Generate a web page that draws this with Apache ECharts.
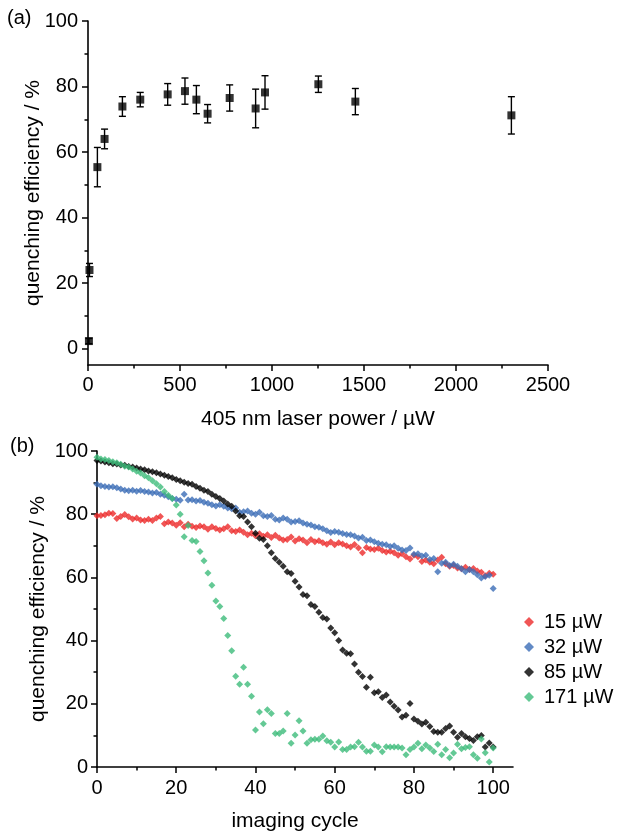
<!DOCTYPE html>
<html>
<head>
<meta charset="utf-8">
<script src="https://cdn.jsdelivr.net/npm/echarts@6/dist/echarts.min.js"></script>
<style>
html,body{margin:0;padding:0;background:#fff;}
#chart{width:617px;height:833px;}
</style>
</head>
<body>
<div id="chart"></div>
<script>
// Panel (a): quenching efficiency vs 405 nm laser power
const powerA = [5, 8, 51, 90, 187, 284, 433, 527, 589, 650, 770, 911, 962, 1252, 1453, 2301];
const effA   = [2.3, 24, 55.4, 64, 73.9, 76, 77.6, 78.6, 76, 71.7, 76.5, 73.3, 78.2, 80.7, 75.4, 71.2];
const errA   = [0.8, 2, 6, 3, 3, 2.2, 3.3, 4, 4.3, 2.8, 4, 5.9, 5.1, 2.5, 4, 5.7];

// Panel (b): quenching efficiency vs imaging cycle (cycles 0..100)
const seriesNames = ['15 µW', '32 µW', '85 µW', '171 µW'];
const red15 = [79.5,79.6,79.8,80.3,80.2,78.6,79.3,79.9,79.2,78.5,78.8,78.2,78.0,78.4,78.0,78.8,79.3,77.0,77.5,77.2,
  76.5,77.3,76.0,76.8,76.2,75.8,76.3,76.0,75.2,76.0,75.5,75.0,75.4,76.0,74.8,74.5,75.0,74.3,73.5,74.0,
  73.2,73.8,73.0,73.5,72.6,73.3,72.5,71.8,72.0,72.8,71.5,72.2,71.8,71.0,72.0,71.3,71.6,71.0,70.5,71.2,
  70.3,71.0,70.6,70.0,69.6,70.4,69.3,67.8,69.5,69.0,68.8,69.2,68.5,68.0,68.3,67.8,67.0,67.5,66.5,65.8,
  67.0,66.5,65.0,65.5,64.8,64.3,65.5,66.4,64.3,63.5,63.8,63.0,62.7,63.2,62.5,62.8,62.0,61.6,60.5,61.3,61.0];
const blue32 = [89.5,89.0,88.8,88.6,88.7,88.4,88.0,87.6,87.4,87.6,87.3,87.5,87.2,87.0,86.7,86.9,86.3,86.0,85.5,85.0,
  84.7,84.4,86.3,84.5,84.6,84.2,84.3,83.8,83.5,83.0,82.6,83.0,82.5,82.0,81.7,82.0,80.6,80.8,81.0,80.3,
  80.0,80.6,79.5,79.3,79.6,78.4,78.2,78.8,78.4,77.5,77.7,77.9,77.2,76.8,76.6,76.0,75.9,75.4,74.8,74.2,
  74.5,74.3,73.9,73.6,73.5,73.1,72.5,72.7,71.7,71.8,71.3,70.8,70.5,70.3,69.8,70.0,69.2,68.7,68.5,69.3,
  67.3,67.5,66.8,67.0,65.7,66.0,61.8,64.5,64.8,63.8,64.2,63.5,62.7,61.8,62.5,61.8,60.8,59.8,60.3,60.7,56.5];
const black85 = [97.0,96.8,96.5,96.3,96.0,95.9,95.6,95.5,95.1,94.9,94.6,94.3,94.1,93.7,93.4,93.1,92.7,92.3,91.9,91.5,
  91.0,90.6,90.1,89.7,89.5,88.8,88.2,87.6,87.2,86.3,85.6,85.0,84.2,83.2,82.5,81.0,79.5,79.3,77.5,76.0,
  74.0,72.4,72.0,70.0,67.8,66.0,64.8,63.5,61.8,61.2,58.8,57.0,54.6,54.2,51.4,50.8,49.0,47.3,46.8,44.0,
  42.5,40.0,37.0,36.0,35.8,32.6,30.0,28.6,25.2,28.4,23.5,23.8,22.0,22.8,20.6,19.2,18.0,15.8,16.4,20.1,
  15.2,14.5,13.6,14.2,12.8,11.2,11.0,11.0,12.2,13.0,11.0,9.4,10.6,9.6,9.0,8.4,9.6,10.0,6.3,7.6,6.3];
const green171 = [98.0,97.5,97.3,97.0,96.6,96.3,95.8,95.2,94.9,94.3,93.6,93.0,92.2,91.5,90.6,89.6,88.6,87.2,86.0,85.0,
  82.9,80.0,72.9,76.4,71.7,71.4,68.2,65.3,61.4,57.5,52.5,50.8,47.0,41.6,36.8,28.7,26.2,31.6,26.2,22.4,
  11.7,17.4,13.7,18.1,16.9,10.6,10.6,11.4,16.9,7.5,10.1,14.6,11.4,7.5,8.6,8.8,8.8,9.8,8.3,7.8,
  6.3,7.9,5.5,5.5,6.3,6.4,7.8,6.3,5.0,5.0,7.0,6.3,4.8,6.4,6.3,6.3,6.3,6.0,3.9,5.5,
  6.3,7.5,5.8,7.0,6.0,4.9,7.2,3.9,5.5,2.9,4.4,7.2,5.8,6.2,6.4,3.9,2.8,8.9,4.5,1.6,6.0];
const colorsB = ['#ec2a2a', '#3b6db6', '#000000', '#3dbb7a'];

const ticksA_y = [0, 20, 40, 60, 80, 100];
const minorA_y = [10, 30, 50, 70, 90];
const ticksB_x = [0, 20, 40, 60, 80, 100];
const minorB_x = [10, 30, 50, 70, 90];

const FONT = "'Liberation Sans', Arial, sans-serif";
const chart = echarts.init(document.getElementById('chart'), null, {renderer: 'canvas'});

const axisLineStyle = {show: true, lineStyle: {color: '#000', width: 1.6}};
const labelStyle = {color: '#000', fontSize: 20, fontFamily: FONT, formatter: v => String(v)};
const nameStyle = {color: '#000', fontSize: 21, fontFamily: FONT};

const dataB = [red15, blue32, black85, green171].map(arr => arr.map((v, i) => [i, v]));

const option = {
  animation: false,
  backgroundColor: '#fff',
  graphic: [
    {type: 'text', left: 7, top: 8, style: {text: '(a)', fontSize: 20, fontFamily: FONT, fill: '#000'}},
    {type: 'text', left: 10, top: 436, style: {text: '(b)', fontSize: 20, fontFamily: FONT, fill: '#000'}}
  ],
  legend: {
    data: seriesNames,
    orient: 'vertical',
    left: 519,
    top: 607,
    itemWidth: 10,
    itemHeight: 10,
    itemGap: 5,
    icon: 'diamond',
    textStyle: {color: '#000', fontSize: 20, fontFamily: FONT, padding: [0, 0, 0, 5]}
  },
  grid: [
    {left: 88, top: 21, width: 460, height: 344},
    {left: 97, top: 451, width: 416, height: 317}
  ],
  xAxis: [
    {
      gridIndex: 0, type: 'value', min: 0, max: 2500, interval: 500,
      axisLine: Object.assign({onZero: false}, axisLineStyle),
      axisTick: {show: true, length: 6, lineStyle: {color: '#000', width: 1.5}},
      minorTick: {show: true, splitNumber: 2, length: 3.5, lineStyle: {color: '#000', width: 1.5}},
      axisLabel: Object.assign({margin: 10}, labelStyle),
      splitLine: {show: false},
      name: '405 nm laser power / µW', nameLocation: 'middle', nameGap: 44,
      nameMoveOverlap: false,
      nameTextStyle: nameStyle
    },
    {
      gridIndex: 1, type: 'value', min: 0, max: 105,
      axisLine: Object.assign({onZero: false}, axisLineStyle),
      axisTick: {show: true, length: 6, customValues: ticksB_x, lineStyle: {color: '#000', width: 1.5}},
      axisLabel: Object.assign({margin: 11, customValues: ticksB_x}, labelStyle),
      splitLine: {show: false},
      name: 'imaging cycle', nameLocation: 'middle', nameGap: 44,
      nameMoveOverlap: false,
      nameTextStyle: Object.assign({padding: [0, 20, 0, 0]}, nameStyle)
    },
    {
      gridIndex: 1, type: 'value', min: 0, max: 105, position: 'bottom',
      axisLine: {show: false},
      axisTick: {show: true, length: 3.5, customValues: minorB_x, lineStyle: {color: '#000', width: 1.5}},
      axisLabel: {show: false},
      splitLine: {show: false}
    }
  ],
  yAxis: [
    {
      gridIndex: 0, type: 'value', min: -5, max: 100,
      axisLine: Object.assign({onZero: false}, axisLineStyle),
      axisTick: {show: true, length: 6, customValues: ticksA_y, lineStyle: {color: '#000', width: 1.5}},
      axisLabel: Object.assign({margin: 10, customValues: ticksA_y}, labelStyle),
      splitLine: {show: false},
      name: 'quenching efficiency / %', nameLocation: 'middle', nameGap: 44,
      nameMoveOverlap: false,
      nameTextStyle: nameStyle
    },
    {
      gridIndex: 0, type: 'value', min: -5, max: 100, position: 'left',
      axisLine: {show: false},
      axisTick: {show: true, length: 3.5, customValues: minorA_y, lineStyle: {color: '#000', width: 1.5}},
      axisLabel: {show: false},
      splitLine: {show: false}
    },
    {
      gridIndex: 1, type: 'value', min: 0, max: 100, interval: 20,
      axisLine: Object.assign({onZero: false}, axisLineStyle),
      axisTick: {show: true, length: 6, lineStyle: {color: '#000', width: 1.5}},
      minorTick: {show: true, splitNumber: 2, length: 3.5, lineStyle: {color: '#000', width: 1.5}},
      axisLabel: Object.assign({margin: 9}, labelStyle),
      splitLine: {show: false},
      name: 'quenching efficiency / %', nameLocation: 'middle', nameGap: 48,
      nameMoveOverlap: false,
      nameTextStyle: nameStyle
    }
  ],
  series: [
    {
      type: 'custom', name: 'errA', xAxisIndex: 0, yAxisIndex: 0,
      data: powerA.map((x, i) => [x, effA[i], errA[i]]),
      renderItem: function (params, api) {
        const x = api.value(0), y = api.value(1), e = api.value(2);
        const top = api.coord([x, y + e]);
        const bot = api.coord([x, y - e]);
        const w = 3.5;
        const st = {stroke: '#000', lineWidth: 1.4};
        return {
          type: 'group',
          children: [
            {type: 'line', shape: {x1: top[0], y1: top[1], x2: bot[0], y2: bot[1]}, style: st},
            {type: 'line', shape: {x1: top[0] - w, y1: top[1], x2: top[0] + w, y2: top[1]}, style: st},
            {type: 'line', shape: {x1: bot[0] - w, y1: bot[1], x2: bot[0] + w, y2: bot[1]}, style: st}
          ]
        };
      },
      silent: true
    },
    {
      type: 'scatter', name: 'powerSeries', xAxisIndex: 0, yAxisIndex: 0,
      symbol: 'rect', symbolSize: 8,
      itemStyle: {color: '#000'},
      data: powerA.map((x, i) => [x, effA[i]])
    }
  ].concat(seriesNames.map((n, k) => ({
    type: 'scatter', name: n, xAxisIndex: 1, yAxisIndex: 2,
    symbol: 'diamond', symbolSize: 7,
    itemStyle: {color: colorsB[k]},
    data: dataB[k]
  })))
};
chart.setOption(option);
</script>
</body>
</html>
